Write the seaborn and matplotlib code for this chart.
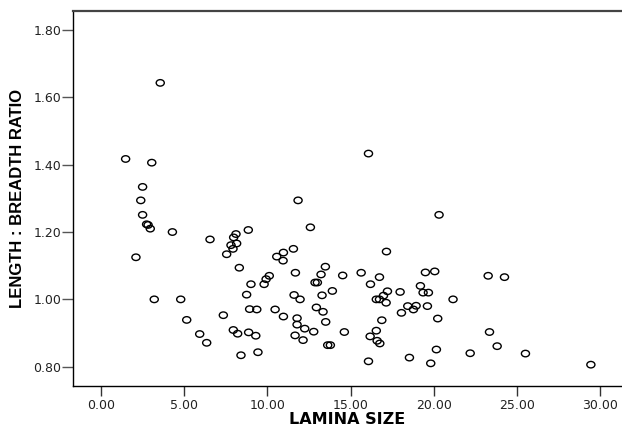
import numpy as np
import pandas as pd
import matplotlib
matplotlib.use('Agg')
import matplotlib.pyplot as plt
import seaborn as sns
from matplotlib.path import Path
from matplotlib.transforms import Affine2D

# values
lamina_size = [
    1.48, 3.56, 3.05, 2.50, 2.39, 2.50, 2.74, 2.83, 2.96, 4.29,
    2.10, 6.55, 8.85, 8.11, 7.97, 8.15, 7.81, 7.93, 7.55, 8.31,
    9.01, 8.75, 3.20, 4.79, 8.93, 9.36, 5.15, 7.35, 5.93, 6.35,
    7.95, 8.21, 8.87, 9.30, 8.41, 9.43, 11.84, 12.58, 11.56, 10.56,
    10.96, 10.94, 17.15, 20.31, 11.68, 13.48, 13.22, 10.11, 9.92, 9.80,
    12.86, 13.00, 14.52, 15.63, 16.73, 16.19, 13.90, 13.28, 11.60, 11.96,
    12.94, 13.34, 10.46, 10.96, 11.78, 11.78, 12.24, 12.78, 13.50, 11.66,
    12.14, 13.62, 13.78, 14.62, 16.54, 16.73, 16.97, 17.21, 17.13, 16.87,
    16.54, 16.17, 16.59, 16.75, 16.07, 17.97, 18.05, 18.43, 18.77, 18.93,
    19.19, 19.35, 19.67, 19.61, 19.49, 20.05, 20.23, 20.15, 19.81, 18.53,
    16.07, 21.15, 23.26, 24.24, 23.34, 23.80, 22.18, 25.50, 29.43,
]
length_breadth = [
    1.417, 1.643, 1.406, 1.334, 1.294, 1.251, 1.223, 1.221, 1.210, 1.200,
    1.125, 1.178, 1.206, 1.194, 1.184, 1.166, 1.161, 1.150, 1.134, 1.094,
    1.045, 1.014, 1.000, 1.000, 0.971, 0.970, 0.939, 0.953, 0.897, 0.871,
    0.909, 0.898, 0.902, 0.892, 0.834, 0.843, 1.294, 1.214, 1.150, 1.127,
    1.139, 1.115, 1.142, 1.251, 1.079, 1.097, 1.074, 1.070, 1.060, 1.045,
    1.050, 1.050, 1.071, 1.079, 1.066, 1.045, 1.025, 1.012, 1.013, 1.000,
    0.976, 0.963, 0.970, 0.949, 0.944, 0.925, 0.913, 0.904, 0.933, 0.893,
    0.879, 0.864, 0.864, 0.903, 1.000, 1.000, 1.011, 1.024, 0.990, 0.938,
    0.907, 0.890, 0.877, 0.869, 0.816, 1.022, 0.960, 0.980, 0.970, 0.981,
    1.040, 1.020, 1.020, 0.980, 1.080, 1.083, 0.943, 0.851, 0.810, 0.827,
    1.433, 1.000, 1.070, 1.066, 0.903, 0.861, 0.840, 0.839, 0.806,
]
x_ticks = [0, 5, 10, 15, 20, 25, 30]
y_ticks = [0.8, 1.0, 1.2, 1.4, 1.6, 1.8]

df = pd.DataFrame({'size': lamina_size, 'ratio': length_breadth})

sns.set_style('white')
plt.rcParams['font.family'] = ['DejaVu Sans']

# slightly wide open circle, like the reference
ellipse = Path.unit_circle().transformed(Affine2D().scale(1.25, 1.0))

fig = plt.figure(figsize=(6.22, 4.32), dpi=100)
ax = fig.add_axes([0.1174, 0.1065, 0.8826, 0.868])
sns.scatterplot(data=df, x='size', y='ratio', ax=ax, marker=ellipse, s=34,
                facecolor='none', edgecolor='black', linewidth=1.0)

ax.set_xlim(-1.68, 31.3)
ax.set_ylim(0.7427, 1.8564)
ax.set_xticks(x_ticks)
ax.set_xticklabels(['{:.2f}'.format(v) for v in x_ticks])
ax.set_yticks(y_ticks)
ax.set_yticklabels(['{:.2f}'.format(v) for v in y_ticks])
ax.tick_params(axis='x', length=7, width=1, color='#333333', pad=2.5,
               labelsize=9, labelcolor='#222222', bottom=True)
ax.tick_params(axis='y', length=8, width=1, color='#555555', pad=0.5,
               labelsize=9, labelcolor='#222222', left=True)

for side in ['left', 'bottom']:
    ax.spines[side].set_color('black')
    ax.spines[side].set_linewidth(1.0)
ax.spines['top'].set_color('#444444')
ax.spines['top'].set_linewidth(1.6)
ax.spines['right'].set_visible(False)

ax.set_xlabel('LAMINA SIZE', fontsize=11.5, fontweight='bold', labelpad=0,
              color='black')
ax.set_ylabel('LENGTH : BREADTH RATIO', fontsize=12, fontweight='bold',
              family=['Liberation Sans', 'DejaVu Sans'], labelpad=6,
              color='black')

fig.savefig('out.png', dpi=100)
